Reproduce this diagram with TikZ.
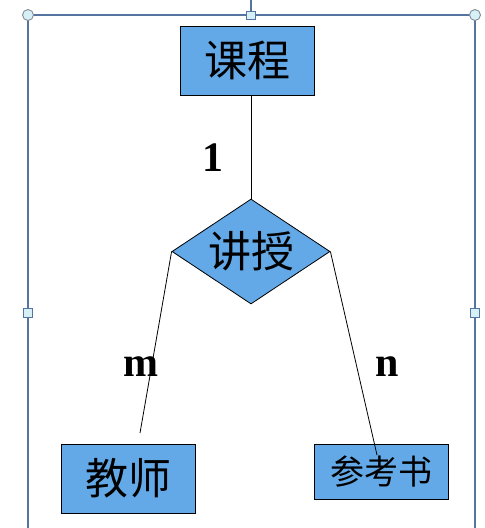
\documentclass[tikz,border=0pt]{standalone}
\usepackage{fontspec}
\setmainfont{Liberation Serif}
\newfontfamily\cjk{Noto Sans CJK SC}
\usetikzlibrary{shapes.geometric}
\definecolor{boxblue}{RGB}{99,169,231}
\definecolor{framec}{RGB}{86,116,160}
\definecolor{handlefill}{RGB}{214,240,246}
\definecolor{handledraw}{RGB}{130,140,150}
\tikzset{
  entity/.style={draw=black, line width=1pt, fill=boxblue, inner sep=0pt, font=\cjk\fontsize{43}{43}\selectfont},
  relation/.style={diamond, aspect=1.5, draw=black, line width=0.8pt, fill=boxblue, inner sep=0pt, minimum width=158pt, minimum height=105pt, font=\cjk\fontsize{43}{43}\selectfont},
  conn/.style={draw=black, line width=0.8pt},
  card/.style={font=\bfseries\fontsize{42}{42}\selectfont, inner sep=0pt},
  frameline/.style={draw=framec, line width=1.3pt},
  roundhandle/.style={circle, draw=handledraw, fill=handlefill, line width=0.9pt, minimum size=11pt, inner sep=0pt},
  squarehandle/.style={rectangle, draw=framec, fill=handlefill, line width=0.9pt, minimum size=8.5pt, inner sep=0pt}
}
\begin{document}
\begin{tikzpicture}[x=1pt,y=-1pt]
\useasboundingbox[fill=white] (0,0) rectangle (485,528);
% selection frame
\draw[frameline] (251,0) -- (251,11);
\draw[frameline] (28,528) -- (28,15) -- (475,15) -- (475,528);
\node[roundhandle] (h1) at (28,15) {};
\node[roundhandle] (h2) at (475,15) {};
\node[squarehandle] (h3) at (251,15.5) {};
\node[squarehandle] (h4) at (28,313) {};
\node[squarehandle] (h5) at (475,313) {};
% nodes
\node[entity, minimum width=134pt, minimum height=69pt] (kc) at (247,60.5) {课程};
\node[relation] (js) at (251,251.5) {讲授};
\node[entity, minimum width=134pt, minimum height=69pt] (jsh) at (128,478.5) {教师};
\node[entity, minimum width=134pt, minimum height=55pt, font=\cjk\fontsize{34}{34}\selectfont] (ckb) at (381,471.5) {参考书};
\coordinate (ma) at (140,433);
\coordinate (nb) at (377,455);
% connectors
\draw[conn] (kc.south -| js.north) -- (js.north);
\draw[conn] (js.west) -- (ma);
\draw[conn] (js.east) -- (nb);
% cardinalities
\node[card] (c1) at (213,158) {1};
\node[card] (cm) at (141,367) {m};
\node[card] (cn) at (387,367) {n};
\end{tikzpicture}
\end{document}
